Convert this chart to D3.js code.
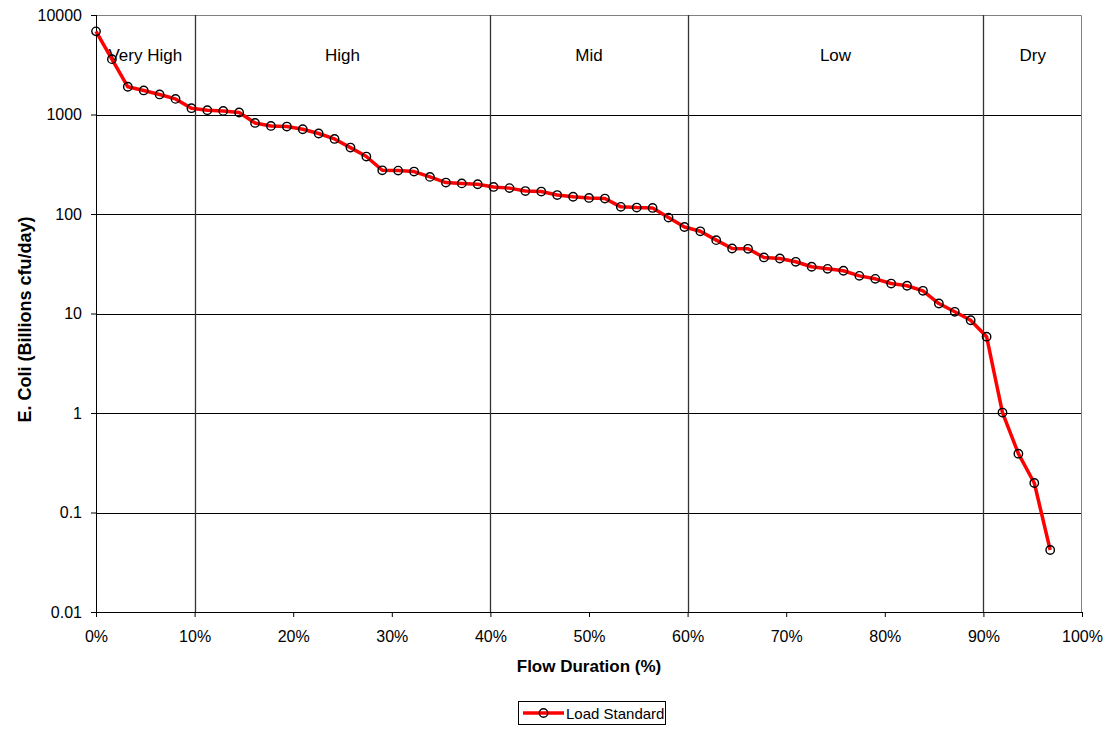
<!DOCTYPE html>
<html>
<head>
<meta charset="utf-8">
<script src="https://cdn.jsdelivr.net/npm/d3@7"></script>
<style>
  body { margin: 0; background: #fff; }
  svg { font-family: Arial, "Liberation Sans", sans-serif; }
</style>
</head>
<body>
<svg id="chart" width="1109" height="749"></svg>
<script>
// load duration curve values (61 evenly spaced points)
var loads = [6850, 3600, 1900, 1745, 1590, 1435, 1157, 1104, 1087, 1047,
             822, 767, 757, 711, 644, 568, 465, 378, 275, 273,
             267, 236, 207, 203, 199, 187, 182, 170, 168, 155,
             149, 145, 143, 118, 116, 115, 92, 74, 67, 54.6,
             45, 44.7, 36.6, 35.7, 33.1, 29.5, 28.1, 26.9, 23.9, 22.3,
             20.0, 19.0, 16.9, 12.6, 10.4, 8.55, 5.85, 1.01, 0.39, 0.198,
             0.042];
var zoneBreaks = [10, 40, 60, 90];
var zoneNames = ["Very High", "High", "Mid", "Low", "Dry"];
var yTicks = [0.01, 0.1, 1, 10, 100, 1000, 10000];
var xTicks = [0, 10, 20, 30, 40, 50, 60, 70, 80, 90, 100];

var margin = {top: 15, right: 27, bottom: 137, left: 96},
    width = 1109 - margin.left - margin.right,
    height = 749 - margin.top - margin.bottom;

var data = loads.map(function(v, i) {
	return {x: i * 100 / 62, y: v};
});

var svg = d3.select("#chart");
var g = svg.append("g")
	.attr("transform", "translate(" + margin.left + "," + margin.top + ")");

var x = d3.scaleLinear().domain([0, 100]).range([0, width]);
var y = d3.scaleLog().domain([0.01, 10000]).range([height, 0]);

// horizontal gridlines
g.append("g")
	.selectAll("line")
	.data(yTicks.slice(1, -1))
	.enter()
	.append("line")
	.attr("x1", 0).attr("x2", width)
	.attr("y1", function(d) { return Math.round(y(d)) + 0.5; })
	.attr("y2", function(d) { return Math.round(y(d)) + 0.5; })
	.style("stroke", "#000")
	.style("stroke-width", 1);

// top and right plot border
g.append("path")
	.attr("d", "M0.5,0.5H" + (width - 0.5) + "V" + height)
	.style("fill", "none")
	.style("stroke", "#808080")
	.style("stroke-width", 1);

// flow zone separators
g.append("g")
	.selectAll("line")
	.data(zoneBreaks)
	.enter()
	.append("line")
	.attr("x1", function(d) { return Math.round(x(d)) + 0.5; })
	.attr("x2", function(d) { return Math.round(x(d)) + 0.5; })
	.attr("y1", 0).attr("y2", height)
	.style("stroke", "#333")
	.style("stroke-width", 1.3);

// zone labels
var edges = [0].concat(zoneBreaks).concat([100]);
g.append("g")
	.selectAll("text")
	.data(zoneNames)
	.enter()
	.append("text")
	.attr("x", function(d, i) { return x((edges[i] + edges[i + 1]) / 2); })
	.attr("y", 46)
	.attr("text-anchor", "middle")
	.style("font-size", "17px")
	.style("fill", "#000")
	.text(function(d) { return d; });

// axes
var yAxis = d3.axisLeft(y)
	.tickValues(yTicks)
	.tickFormat(function(d) { return d3.format("~g")(d); })
	.tickSize(5)
	.tickPadding(9);
var ya = g.append("g").call(yAxis);
ya.select(".domain").attr("d", "M0.5," + height + "V0").style("stroke", "#000");
ya.selectAll("text").style("font-size", "16px").style("fill", "#000");

var xAxis = d3.axisBottom(x)
	.tickValues(xTicks)
	.tickFormat(function(d) { return d + "%"; })
	.tickSize(5)
	.tickPadding(14);
var xa = g.append("g")
	.attr("transform", "translate(0," + height + ")")
	.call(xAxis);
xa.select(".domain").attr("d", "M0,0.5H" + width).style("stroke", "#000");
xa.selectAll("text").style("font-size", "16px").style("fill", "#000");

// axis titles
g.append("text")
	.attr("x", width / 2)
	.attr("y", height + 60)
	.attr("text-anchor", "middle")
	.style("font-size", "17px")
	.style("font-weight", "bold")
	.text("Flow Duration (%)");

g.append("text")
	.attr("transform", "translate(" + (-65) + "," + (height / 2 + 6) + ") rotate(-90)")
	.attr("text-anchor", "middle")
	.style("font-size", "18px")
	.style("font-weight", "bold")
	.text("E. Coli (Billions cfu/day)");

// the curve
var line = d3.line()
	.x(function(d) { return x(d.x); })
	.y(function(d) { return y(d.y); });

g.append("path")
	.datum(data)
	.attr("d", line)
	.style("fill", "none")
	.style("stroke", "#ff0000")
	.style("stroke-width", 3.5)
	.style("stroke-linejoin", "round");

g.append("g")
	.selectAll("circle")
	.data(data)
	.enter()
	.append("circle")
	.attr("cx", function(d) { return x(d.x); })
	.attr("cy", function(d) { return y(d.y); })
	.attr("r", 4.2)
	.style("fill", "none")
	.style("stroke", "#000")
	.style("stroke-width", 1.4);

// legend
var legend = svg.append("g").attr("transform", "translate(518,701)");
legend.append("rect")
	.attr("x", 0.5).attr("y", 0.5)
	.attr("width", 147).attr("height", 23)
	.style("fill", "#fff")
	.style("stroke", "#000");
legend.append("line")
	.attr("x1", 5).attr("x2", 46)
	.attr("y1", 12).attr("y2", 12)
	.style("stroke", "#ff0000")
	.style("stroke-width", 3.5);
legend.append("circle")
	.attr("cx", 25.5).attr("cy", 12).attr("r", 4.2)
	.style("fill", "none")
	.style("stroke", "#000")
	.style("stroke-width", 1.4);
legend.append("text")
	.attr("x", 48).attr("y", 18)
	.style("font-size", "15px")
	.text("Load Standard");
</script>
</body>
</html>
